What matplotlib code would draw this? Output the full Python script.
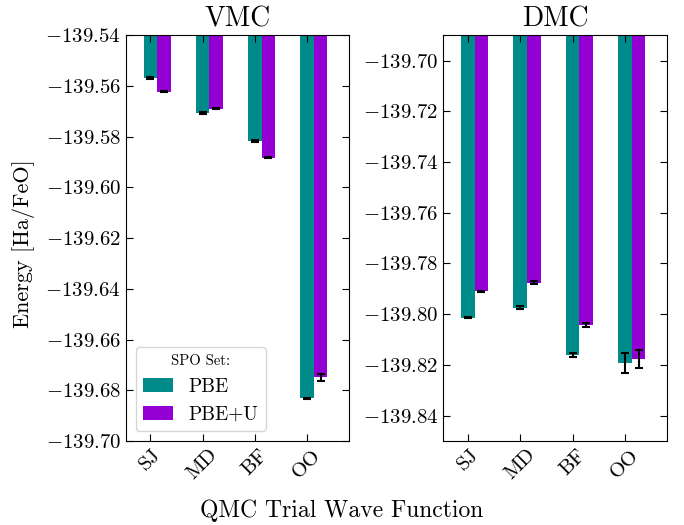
import numpy as np
import matplotlib
matplotlib.use("Agg")
from matplotlib import pyplot as plt

plt.rcParams['font.family'] = 'serif'
plt.rcParams['font.serif'] = ['cmr10']
plt.rcParams['mathtext.fontset'] = 'cm'
plt.rcParams['axes.formatter.use_mathtext'] = True
plt.rcParams['axes.unicode_minus'] = True

wfs = ['SJ', 'MD', 'BF', 'OO']
spo_sets = ['PBE', 'PBE+U']

vmc_pbe = [-139.5568, -139.5706, -139.5818, -139.6831]
vmc_pbe_err = [0.0003, 0.0003, 0.0003, 0.0002]
vmc_pbeu = [-139.5623, -139.5690, -139.5883, -139.6749]
vmc_pbeu_err = [0.0002, 0.0003, 0.0003, 0.0015]

dmc_pbe = [-139.8015, -139.7975, -139.8161, -139.8193]
dmc_pbe_err = [0.0002, 0.0006, 0.0006, 0.0039]
dmc_pbeu = [-139.7909, -139.7876, -139.8043, -139.8177]
dmc_pbeu_err = [0.0002, 0.0005, 0.0007, 0.0035]

colors = ['#008b8b', '#9400d3']
width = 0.26
x = np.arange(len(wfs))

fig = plt.figure(figsize=(6.84, 5.25), dpi=100)
ax1 = fig.add_axes([0.184, 0.160, 0.326, 0.773])
ax2 = fig.add_axes([0.648, 0.160, 0.327, 0.773])

def draw(ax, a, aerr, b, berr, title, ylim, yticks):
    ax.bar(x, a, width, color=colors[0], label=spo_sets[0])
    ax.bar(x + width, b, width, color=colors[1], label=spo_sets[1])
    ax.errorbar(x, a, yerr=aerr, fmt='none', ecolor='k', capsize=3, elinewidth=1.5, capthick=1.5)
    ax.errorbar(x + width, b, yerr=berr, fmt='none', ecolor='k', capsize=3, elinewidth=1.5, capthick=1.5)
    ax.set_ylim(*ylim)
    ax.set_yticks(yticks)
    ax.set_yticklabels(['$-$%.2f' % abs(t) for t in yticks])
    ax.set_xlim(-0.47, 3.8)
    ax.set_xticks(x)
    ax.set_xticklabels(wfs, rotation=45)
    ax.tick_params(direction='in', top=True, right=True, labelsize=15, length=5)
    ax.set_title(title, fontsize=20)

draw(ax1, vmc_pbe, vmc_pbe_err, vmc_pbeu, vmc_pbeu_err, 'VMC',
     (-139.70, -139.54), np.arange(-139.70, -139.539, 0.02))
draw(ax2, dmc_pbe, dmc_pbe_err, dmc_pbeu, dmc_pbeu_err, 'DMC',
     (-139.85, -139.69), np.arange(-139.84, -139.699, 0.02))

leg = ax1.legend(loc='lower left', title='SPO Set:', fontsize=14, title_fontsize=10.5,
                 handlelength=1.5)

fig.text(0.035, 0.536, 'Energy [Ha/FeO]', rotation=90, fontsize=16, ha='center', va='center')
fig.text(0.5, 0.015, 'QMC Trial Wave Function', fontsize=17, ha='center', va='baseline')

fig.savefig('out.png', dpi=100)
